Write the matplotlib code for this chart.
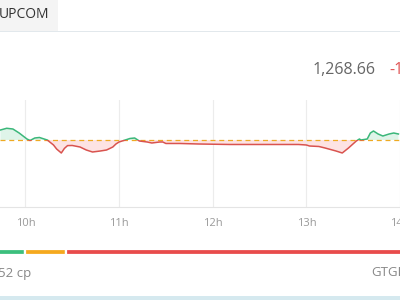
import numpy as np
from matplotlib import pyplot as plt
from matplotlib.patches import Rectangle

plt.rcParams['font.family'] = ['Open Sans', 'DejaVu Sans']

# データ
# ########################################
times = ['9:44', '9:48', '9:52', '9:56', '10:01', '10:03', '10:06', '10:09',
         '10:12', '10:14', '10:18', '10:20', '10:23', '10:25', '10:27', '10:30',
         '10:35', '10:39', '10:43', '10:48', '10:52', '10:56', '10:58', '11:00',
         '11:04', '11:07', '11:10', '11:13', '11:18', '11:21', '11:26', '11:28',
         '11:30', '11:39', '11:51', '12:11', '12:33', '12:55', '13:00', '13:02',
         '13:08', '13:12', '13:19', '13:23', '13:27', '13:32', '13:34', '13:35',
         '13:39', '13:41', '13:43', '13:46', '13:49', '13:53', '13:56', '13:59']
values = [1274.50, 1274.93, 1274.75, 1273.75, 1272.25, 1271.88, 1272.50, 1272.63,
          1272.25, 1272.00, 1270.75, 1269.75, 1268.75, 1269.90, 1270.60, 1270.63,
          1270.25, 1269.50, 1269.00, 1269.25, 1269.50, 1270.25, 1271.00, 1271.50,
          1272.00, 1272.38, 1272.50, 1271.75, 1271.50, 1271.25, 1271.50, 1271.50,
          1271.13, 1271.13, 1271.00, 1270.88, 1270.88, 1270.88, 1270.75, 1270.50,
          1270.38, 1270.00, 1269.25, 1268.75, 1270.00, 1271.75, 1272.25, 1272.00,
          1272.25, 1273.75, 1274.25, 1273.50, 1273.00, 1273.50, 1273.75, 1273.50]
ref_value = 1272.00

hour_ticks = [10, 11, 12, 13, 14]
hour_labels = ['10h', '11h', '12h', '13h', '14h']

breadth = [55, 41, 380]   # tăng / đứng / giảm
breadth_colors = ['#3cbf7d', '#f5a91e', '#e84b4b']

t = np.array([int(s.split(':')[0]) + int(s.split(':')[1]) / 60 for s in times])
v = np.array(values)

W, H = 400, 300

def px(x, y, w, h):
    # 左上原点のピクセル -> figure座標
    return [x / W, 1 - (y + h) / H, w / W, h / H]


fig = plt.figure(figsize=(4, 3), dpi=100)
fig.patch.set_facecolor('white')

# タブ
fig.add_artist(Rectangle(px(0, 0, 58, 31)[:2], 58 / W, 31 / H,
                         transform=fig.transFigure, color='#f4f4f4', lw=0))
fig.add_artist(Rectangle(px(0, 31, 400, 1)[:2], 1, 1 / H,
                         transform=fig.transFigure, color='#e2e8ec', lw=0))
fig.text(-0.002, 1 - 15 / H, 'UPCOM', fontsize=10, color='#333333', va='center')

fig.text(313 / W, 1 - 70 / H, '1,268.66', fontsize=11.5, color='#666666', va='center')
fig.text(389 / W, 1 - 70 / H, '-1', fontsize=11.5, color='#e05555', va='center')

# チャート
# ########################################
ax = fig.add_axes(px(0, 100, 400, 107))
x0 = 10 - 25.5 / 94
ax.set_xlim(x0, x0 + 400 / 94)
ax.set_ylim(ref_value - 67 * 0.25, ref_value + 40 * 0.25)

green = '#3bb77a'
red = '#d9534f'
ax.fill_between(t, v, ref_value, where=v >= ref_value, interpolate=True,
                color='#dff4e9', lw=0, zorder=1)
ax.fill_between(t, v, ref_value, where=v <= ref_value, interpolate=True,
                color='#fde3e3', lw=0, zorder=1)

up_line, = ax.plot(t, v, color=green, lw=1.1, zorder=3)
dn_line, = ax.plot(t, v, color=red, lw=1.1, zorder=3)
up_line.set_clip_path(Rectangle((x0 - 1, ref_value), 10, 100, transform=ax.transData))
dn_line.set_clip_path(Rectangle((x0 - 1, ref_value - 100), 10, 100, transform=ax.transData))

ax.axhline(ref_value, color='#eeaa22', lw=0.9, ls=(0, (4, 3)), zorder=2)

ax.set_xticks(hour_ticks, hour_labels)
ax.set_yticks([])
ax.grid(axis='x', color='#ececec', lw=0.8)
ax.tick_params(axis='x', length=0, pad=8, labelsize=8, labelcolor='#9a9a9a')
for s in ['top', 'left', 'right']:
    ax.spines[s].set_visible(False)
ax.spines['bottom'].set_color('#e4e4e4')
ax.spines['bottom'].set_linewidth(0.8)

# 上昇・下落バー
# ########################################
bx = fig.add_axes(px(0, 248.5, 400, 6))
left = 0
for n, c in zip(breadth, breadth_colors):
    bx.barh(0, n, left=left, height=1, color=c, edgecolor='white', lw=1.6)
    left += n
bx.set_xlim(30, 430)
bx.set_ylim(-0.5, 0.5)
bx.axis('off')

fig.text(-0.004, 1 - 273 / H, '52 cp', fontsize=9.5, color='#888888', va='center')
fig.text(371 / W, 1 - 273 / H, 'GTGD', fontsize=9.5, color='#888888', va='center')

fig.add_artist(Rectangle((0, 0), 1, 4 / H, transform=fig.transFigure,
                         color='#d5e9ef', lw=0))

plt.savefig('out.png', dpi=100)
